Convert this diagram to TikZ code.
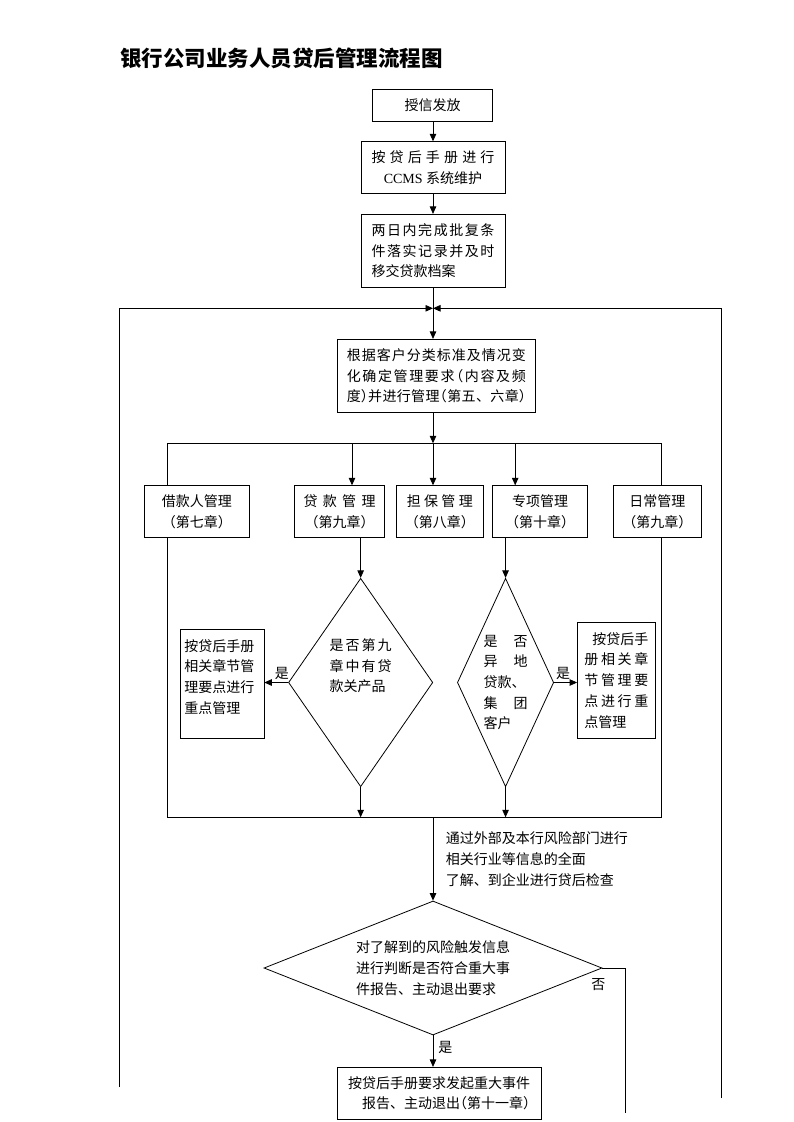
\documentclass[tikz,border=0pt]{standalone}
\usepackage{fontspec}
\setmainfont{Noto Sans CJK SC}
\newfontfamily\latin{Liberation Serif}
\newfontfamily\haltf{Noto Sans CJK SC}[RawFeature=+halt]
\newcommand\lpa{{\haltf （}}
\newcommand\rpa{{\haltf ）}}
\newcommand\spr[2]{\makebox[#1][s]{#2}}
\usetikzlibrary{shapes.geometric,arrows.meta,calc}
\tikzset{
  box/.style={draw, inner sep=0pt},
  ctr/.style={align=center},
  lft/.style={align=left},
  dia/.style={draw, diamond, inner sep=0pt},
  arr/.style={draw, -{Triangle[length=7.5pt,width=6.5pt]}},
  lab/.style={inner sep=0pt},
}
\begin{document}
\begin{tikzpicture}[x=1pt, y=-1pt, line width=0.8pt, font=\fontsize{14}{20.7}\selectfont]
\fill[white] (0,0) rectangle (793,1122);
\useasboundingbox (0,0) rectangle (793,1122);

\node[anchor=west, inner sep=0pt, font=\fontsize{21.5}{25}\selectfont\bfseries] (title) at (120,58) {银行公司业务人员贷后管理流程图};

\node[box, ctr, minimum width=120.1pt, minimum height=31.7pt] (n1) at (432.55,105.15) {授信发放};
\node[box, ctr, minimum width=144pt, minimum height=51.6pt] (n2) at (433,167.5)
  {\spr{123pt}{按\hfil 贷\hfil 后\hfil 手\hfil 册\hfil 进\hfil 行}\\{\latin CCMS }系统维护};
\node[box, lft, minimum width=144pt, minimum height=73pt] (n3) at (433,250.8)
  {\spr{123pt}{两\hfil 日\hfil 内\hfil 完\hfil 成\hfil 批\hfil 复\hfil 条}\\\spr{123pt}{件\hfil 落\hfil 实\hfil 记\hfil 录\hfil 并\hfil 及\hfil 时}\\移交贷款档案};
\node[box, lft, minimum width=198.8pt, minimum height=73pt] (n4) at (436.3,375.8)
  {\spr{179pt}{根\hfil 据\hfil 客\hfil 户\hfil 分\hfil 类\hfil 标\hfil 准\hfil 及\hfil 情\hfil 况\hfil 变}\\\spr{179pt}{化\hfil 确\hfil 定\hfil 管\hfil 理\hfil 要\hfil 求\hfil \lpa\hfil 内\hfil 容\hfil 及\hfil 频}\\\spr{179pt}{度\rpa\hfil 并\hfil 进\hfil 行\hfil 管\hfil 理\hfil \lpa\hfil 第\hfil 五\hfil 、\hfil 六\hfil 章\rpa}};

\node[box, ctr, minimum width=105.7pt, minimum height=51.6pt] (b1) at (196.75,511.5) {借款人管理\\\lpa 第七章\rpa};
\node[box, ctr, minimum width=90.5pt, minimum height=51.6pt] (b2) at (339.55,511.5) {\spr{72pt}{贷\hfil 款\hfil 管\hfil 理}\\\lpa 第九章\rpa};
\node[box, ctr, minimum width=86.9pt, minimum height=51.6pt] (b3) at (439.75,511.5) {\spr{66pt}{担\hfil 保\hfil 管\hfil 理}\\\lpa 第八章\rpa};
\node[box, ctr, minimum width=95.1pt, minimum height=51.6pt] (b4) at (540.15,511.5) {专项管理\\\lpa 第十章\rpa};
\node[box, ctr, minimum width=87.7pt, minimum height=51.6pt] (b5) at (657.35,511.5) {日常管理\\\lpa 第九章\rpa};

\node[dia, minimum width=144.3pt, minimum height=208.4pt, aspect=0.69] (d1) at (360.65,682.5)
  {\parbox[c][100pt][t]{62pt}{\rule{0pt}{17.8pt}\spr{62pt}{是\hfil 否\hfil 第\hfil 九}\\\spr{62pt}{章\hfil 中\hfil 有\hfil 贷}\\款关产品}};
\node[dia, lft, minimum width=96.3pt, minimum height=208.4pt, aspect=0.462] (d2) at (505.55,682.5)
  {\spr{44pt}{是\hfil 否}\\\spr{44pt}{异\hfil 地}\\贷款、\\\spr{44pt}{集\hfil 团}\\客户};

\node[box, minimum width=83.2pt, minimum height=109pt] (lb) at (222.3,683.8)
  {\parbox[c][109pt][t]{76pt}{\rule{0pt}{21.7pt}按贷后手册\\相关章节管\\理要点进行\\重点管理}};
\node[box, lft, minimum width=77.8pt, minimum height=116pt] (rb) at (616.4,680.3)
  {\makebox[64pt][r]{按贷后手}\\\spr{64pt}{册\hfil 相\hfil 关\hfil 章}\\\spr{64pt}{节\hfil 管\hfil 理\hfil 要}\\\spr{64pt}{点\hfil 进\hfil 行\hfil 重}\\点管理};

\node[lab, lft, anchor=west] (info) at (445.5,859.3) {通过外部及本行风险部门进行\\相关行业等信息的全面\\了解、到企业进行贷后检查};

\node[dia, lft, minimum width=338pt, minimum height=134pt, aspect=2.52] (d3) at (433,968)
  {对了解到的风险触发信息\\进行判断是否符合重大事\\件报告、主动退出要求};

\node[box, align=right, minimum width=204.5pt, minimum height=51.7pt] (b6) at (439.15,1093.15)
  {按贷后手册要求发起重大事件\\报告、主动退出\lpa 第十一章\rpa};

% coordinates
\coordinate (jn) at (433,308.3);
\coordinate (loopL) at (119.7,1087);
\coordinate (loopR) at (721.7,1098);
\coordinate (bus) at (433,443.3);
\coordinate (busL) at (167.6,443.3);
\coordinate (busR) at (661.5,443.3);
\coordinate (bus2) at (352,443.3);
\coordinate (bus4) at (515.2,443.3);
\coordinate (botL) at (167.6,817.3);
\coordinate (botR) at (661.5,817.3);
\coordinate (noEnd) at (625.4,1113);

% connectors
\draw[arr] (n1.south -| jn) -- (n2.north -| jn);
\draw[arr] (n2.south -| jn) -- (n3.north -| jn);
\draw[arr] (n3.south -| jn) -- (n4.north -| jn);
\draw[arr] (loopL) |- (jn);
\draw[arr] (loopR) |- (jn);

\draw[arr] (n4.south -| jn) -- (bus);
\draw (busL) -- (busR);
\draw (busL) -- (busL |- b1.north);
\draw[arr] (bus2) -- (bus2 |- b2.north);
\draw[arr] (bus) -- (bus |- b3.north);
\draw[arr] (bus4) -- (bus4 |- b4.north);
\draw (busR) -- (busR |- b5.north);

\draw (botL |- b1.south) -- (botL) -- (botR) -- (botR |- b5.south);
\draw[arr] (d1.north |- b2.south) -- (d1.north);
\draw[arr] (d2.north |- b4.south) -- (d2.north);
\draw[arr] (d1.south) -- (d1.south |- botL);
\draw[arr] (d2.south) -- (d2.south |- botL);
\draw[arr] (d1.west) -- node[lab, above=2pt, pos=0.26] (y1) {是} (d1.west -| lb.east);
\draw[arr] (d2.east) -- node[lab, above=2pt, pos=0.39] (y2) {是} (d2.east -| rb.west);

\draw[arr] (d3.north |- botL) -- (d3.north);
\draw[arr] (d3.south) -- node[lab, right=5pt, pos=0.39] (y3) {是} (d3.south |- b6.north);
\draw (d3.east) node[lab, anchor=north, xshift=-4pt, yshift=-10pt] (no) {否} -- (d3.east -| noEnd) -- (noEnd);
\end{tikzpicture}
\end{document}
